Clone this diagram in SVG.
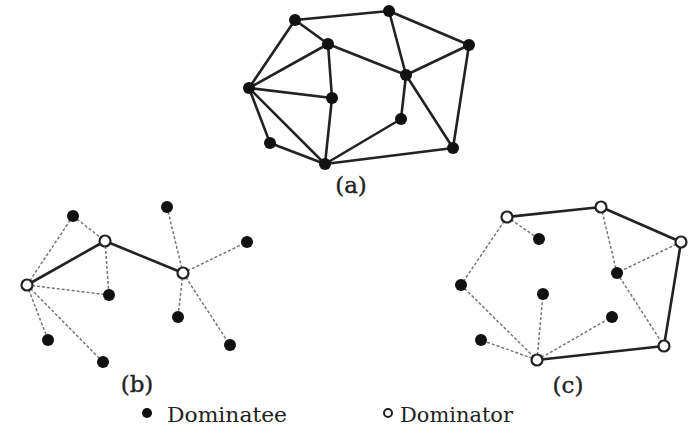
<svg xmlns="http://www.w3.org/2000/svg" width="690" height="426" viewBox="0 0 690 426">
  <style>
    .edge { stroke: #222; stroke-width: 2.6; fill: none; stroke-linecap: round; }
    .link { stroke: #222; stroke-width: 2.6; fill: none; stroke-linecap: round; }
    .dash { stroke: #777; stroke-width: 1.5; fill: none; stroke-dasharray: 3 2; }
    .dee { fill: #111; }
    .dor { fill: #fff; stroke: #222; stroke-width: 2.2; }
    .lbl { font-family: "DejaVu Serif", "Liberation Serif", serif; font-size: 20px; fill: #222; }
    .cap { font-family: "DejaVu Serif", "Liberation Serif", serif; font-size: 23px; fill: #222; stroke: #222; stroke-width: 0.4; text-anchor: middle; }
  </style>
  <rect width="690" height="426" fill="#fff"/>

  <!-- (a) full network -->
  <g id="connectors-a">
    <line class="edge" x1="295" y1="20" x2="389" y2="11"/>
    <line class="edge" x1="295" y1="20" x2="249" y2="88"/>
    <line class="edge" x1="295" y1="20" x2="328" y2="44"/>
    <line class="edge" x1="389" y1="11" x2="406" y2="75"/>
    <line class="edge" x1="389" y1="11" x2="469" y2="45"/>
    <line class="edge" x1="328" y1="44" x2="249" y2="88"/>
    <line class="edge" x1="328" y1="44" x2="406" y2="75"/>
    <line class="edge" x1="328" y1="44" x2="332" y2="98"/>
    <line class="edge" x1="469" y1="45" x2="406" y2="75"/>
    <line class="edge" x1="469" y1="45" x2="453" y2="148"/>
    <line class="edge" x1="249" y1="88" x2="332" y2="98"/>
    <line class="edge" x1="249" y1="88" x2="270" y2="143"/>
    <line class="edge" x1="249" y1="88" x2="325" y2="164"/>
    <line class="edge" x1="332" y1="98" x2="325" y2="164"/>
    <line class="edge" x1="406" y1="75" x2="401" y2="119"/>
    <line class="edge" x1="406" y1="75" x2="453" y2="148"/>
    <line class="edge" x1="401" y1="119" x2="325" y2="164"/>
    <line class="edge" x1="270" y1="143" x2="325" y2="164"/>
    <line class="edge" x1="325" y1="164" x2="453" y2="148"/>
  </g>
  <g id="nodes-a">
    <g id="a1"><circle class="dee" cx="295" cy="20" r="6"/></g>
    <g id="a2"><circle class="dee" cx="389" cy="11" r="6"/></g>
    <g id="a3"><circle class="dee" cx="328" cy="44" r="6"/></g>
    <g id="a4"><circle class="dee" cx="469" cy="45" r="6"/></g>
    <g id="a5"><circle class="dee" cx="249" cy="88" r="6"/></g>
    <g id="a6"><circle class="dee" cx="406" cy="75" r="6"/></g>
    <g id="a7"><circle class="dee" cx="332" cy="98" r="6"/></g>
    <g id="a8"><circle class="dee" cx="401" cy="119" r="6"/></g>
    <g id="a9"><circle class="dee" cx="270" cy="143" r="6"/></g>
    <g id="a10"><circle class="dee" cx="453" cy="148" r="6"/></g>
    <g id="a11"><circle class="dee" cx="325" cy="164" r="6"/></g>
  </g>
  <text class="cap" x="351" y="193">(a)</text>

  <!-- (b) dominating tree -->
  <g id="connectors-b">
    <line class="dash" x1="27" y1="285" x2="73" y2="216"/>
    <line class="dash" x1="73" y1="216" x2="105" y2="241"/>
    <line class="dash" x1="105" y1="241" x2="109" y2="295"/>
    <line class="dash" x1="27" y1="285" x2="109" y2="295"/>
    <line class="dash" x1="27" y1="285" x2="48" y2="340"/>
    <line class="dash" x1="27" y1="285" x2="103" y2="362"/>
    <line class="dash" x1="183" y1="273" x2="167" y2="207"/>
    <line class="dash" x1="183" y1="273" x2="247" y2="242"/>
    <line class="dash" x1="183" y1="273" x2="178" y2="317"/>
    <line class="dash" x1="183" y1="273" x2="230" y2="345"/>
    <line class="link" x1="27" y1="285" x2="105" y2="241"/>
    <line class="link" x1="105" y1="241" x2="183" y2="273"/>
  </g>
  <g id="nodes-b">
    <g id="b1"><circle class="dor" cx="27" cy="285" r="5.5"/></g>
    <g id="b2"><circle class="dor" cx="105" cy="241" r="5.5"/></g>
    <g id="b3"><circle class="dor" cx="183" cy="273" r="5.5"/></g>
    <g id="b4"><circle class="dee" cx="73" cy="216" r="6"/></g>
    <g id="b5"><circle class="dee" cx="109" cy="295" r="6"/></g>
    <g id="b6"><circle class="dee" cx="48" cy="340" r="6"/></g>
    <g id="b7"><circle class="dee" cx="103" cy="362" r="6"/></g>
    <g id="b8"><circle class="dee" cx="167" cy="207" r="6"/></g>
    <g id="b9"><circle class="dee" cx="247" cy="242" r="6"/></g>
    <g id="b10"><circle class="dee" cx="178" cy="317" r="6"/></g>
    <g id="b11"><circle class="dee" cx="230" cy="345" r="6"/></g>
  </g>
  <text class="cap" x="137" y="392">(b)</text>

  <!-- (c) dominating ring -->
  <g id="connectors-c">
    <line class="dash" x1="507" y1="217" x2="539" y2="239"/>
    <line class="dash" x1="507" y1="217" x2="461" y2="285"/>
    <line class="dash" x1="461" y1="285" x2="537" y2="360"/>
    <line class="dash" x1="537" y1="360" x2="543" y2="294"/>
    <line class="dash" x1="537" y1="360" x2="612" y2="317"/>
    <line class="dash" x1="537" y1="360" x2="481" y2="340"/>
    <line class="dash" x1="601" y1="207" x2="617" y2="273"/>
    <line class="dash" x1="681" y1="242" x2="617" y2="273"/>
    <line class="dash" x1="617" y1="273" x2="664" y2="346"/>
    <line class="link" x1="507" y1="217" x2="601" y2="207"/>
    <line class="link" x1="601" y1="207" x2="681" y2="242"/>
    <line class="link" x1="681" y1="242" x2="664" y2="346"/>
    <line class="link" x1="664" y1="346" x2="537" y2="360"/>
  </g>
  <g id="nodes-c">
    <g id="c1"><circle class="dor" cx="507" cy="217" r="5.5"/></g>
    <g id="c2"><circle class="dor" cx="601" cy="207" r="5.5"/></g>
    <g id="c3"><circle class="dor" cx="681" cy="242" r="5.5"/></g>
    <g id="c4"><circle class="dor" cx="664" cy="346" r="5.5"/></g>
    <g id="c5"><circle class="dor" cx="537" cy="360" r="5.5"/></g>
    <g id="c6"><circle class="dee" cx="539" cy="239" r="6"/></g>
    <g id="c7"><circle class="dee" cx="461" cy="285" r="6"/></g>
    <g id="c8"><circle class="dee" cx="543" cy="294" r="6"/></g>
    <g id="c9"><circle class="dee" cx="617" cy="273" r="6"/></g>
    <g id="c10"><circle class="dee" cx="612" cy="317" r="6"/></g>
    <g id="c11"><circle class="dee" cx="481" cy="340" r="6"/></g>
  </g>
  <text class="cap" x="568" y="393">(c)</text>

  <!-- legend -->
  <g id="legend-dominatee">
    <circle class="dee" cx="147" cy="413" r="5"/>
    <text class="lbl" x="167" y="422" textLength="120" lengthAdjust="spacingAndGlyphs">Dominatee</text>
  </g>
  <g id="legend-dominator">
    <circle fill="#fff" stroke="#222" stroke-width="2" cx="388" cy="413" r="4"/>
    <text class="lbl" x="400" y="422" textLength="113" lengthAdjust="spacingAndGlyphs">Dominator</text>
  </g>
</svg>
